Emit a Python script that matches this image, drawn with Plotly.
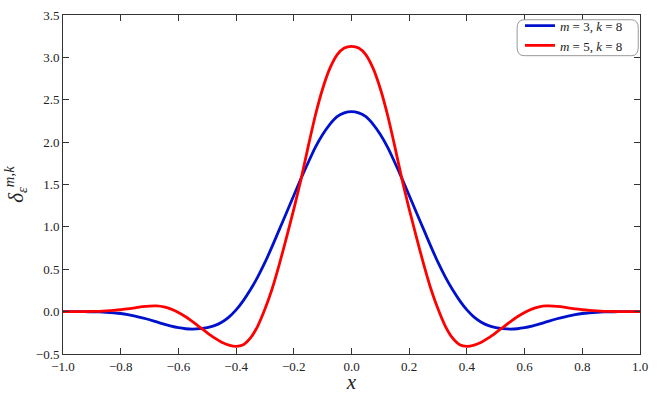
import plotly.graph_objects as go

# values (x step 0.025)
x_vals = [round(-1.0 + 0.025 * i, 3) for i in range(81)]

m3_left = [0.0, 0.0, 0.0, -0.001, -0.002, -0.004, -0.008, -0.014, -0.022, -0.035,
           -0.052, -0.073, -0.096, -0.122, -0.148, -0.172, -0.19, -0.202, -0.206, -0.2,
           -0.188, -0.165, -0.125, -0.065, 0.02, 0.13, 0.26, 0.41, 0.58, 0.77,
           0.97, 1.17, 1.37, 1.57, 1.76, 1.94, 2.09, 2.21, 2.30, 2.345,
           2.36]
m3_right = [2.345, 2.30, 2.21, 2.09, 1.94, 1.76, 1.57, 1.37, 1.17, 0.97,
            0.77, 0.58, 0.41, 0.26, 0.13, 0.02, -0.065, -0.125, -0.165, -0.188,
            -0.2, -0.206, -0.202, -0.19, -0.172, -0.148, -0.122, -0.096, -0.073, -0.052,
            -0.035, -0.022, -0.014, -0.008, -0.004, -0.002, -0.001, 0.0, 0.0, 0.0]

m5_left = [0.0, 0.0, 0.0, 0.001, 0.002, 0.004, 0.008, 0.014, 0.022, 0.033,
           0.045, 0.058, 0.066, 0.067, 0.055, 0.03, -0.01, -0.06, -0.12, -0.185,
           -0.25, -0.31, -0.36, -0.395, -0.41, -0.39, -0.31, -0.17, 0.03, 0.27,
           0.56, 0.88, 1.21, 1.56, 1.95, 2.32, 2.63, 2.87, 3.03, 3.11,
           3.13]
m5_right = [3.11, 3.03, 2.87, 2.63, 2.32, 1.95, 1.56, 1.21, 0.88, 0.56,
            0.27, 0.03, -0.17, -0.31, -0.39, -0.41, -0.395, -0.36, -0.31, -0.25,
            -0.185, -0.12, -0.06, -0.01, 0.03, 0.055, 0.067, 0.066, 0.058, 0.045,
            0.033, 0.022, 0.014, 0.008, 0.004, 0.002, 0.001, 0.0, 0.0, 0.0]

m3_vals = m3_left + m3_right
m5_vals = m5_left + m5_right

x_ticks = [-1.0, -0.8, -0.6, -0.4, -0.2, 0.0, 0.2, 0.4, 0.6, 0.8, 1.0]
x_labels = ['\u22121.0', '\u22120.8', '\u22120.6', '\u22120.4', '\u22120.2',
            '0.0', '0.2', '0.4', '0.6', '0.8', '1.0']
y_ticks = [-0.5, 0.0, 0.5, 1.0, 1.5, 2.0, 2.5, 3.0, 3.5]
y_labels = ['\u22120.5', '0.0', '0.5', '1.0', '1.5', '2.0', '2.5', '3.0', '3.5']

serif = "Liberation Serif"

fig = go.Figure()
fig.add_trace(go.Scatter(x=x_vals, y=m3_vals, mode='lines',
                         line=dict(color='#0011cc', width=2.8, shape='spline', smoothing=0.6),
                         name='<i>m</i> = 3, <i>k</i> = 8'))
fig.add_trace(go.Scatter(x=x_vals, y=m5_vals, mode='lines',
                         line=dict(color='#ff0000', width=2.8, shape='spline', smoothing=0.6),
                         name='<i>m</i> = 5, <i>k</i> = 8'))

axis_style = dict(showgrid=False, zeroline=False, showline=True, linecolor='#333333',
                  linewidth=1, mirror='ticks', ticks='inside', ticklen=6,
                  tickcolor='#333333', automargin=False,
                  tickfont=dict(family=serif, size=13, color='#222222'))

fig.update_xaxes(range=[-1, 1], tickvals=x_ticks, ticktext=x_labels,
                 title=dict(text='<i>x</i>', font=dict(family=serif, size=21, color='#222222'),
                            standoff=4),
                 **axis_style)
fig.update_yaxes(range=[-0.5, 3.5], tickvals=y_ticks, ticktext=y_labels,
                 title=dict(text='<i>\u03b4</i><sub><i>\u03b5</i></sub><sup><i>m</i>,<i>k</i></sup>',
                            font=dict(family=serif, size=21, color='#222222'), standoff=6),
                 **axis_style)

# rounded legend frame
x0, x1, y0, y1 = 0.787, 0.997, 0.880, 0.986
rx, ry = 0.012, 0.025
fig.add_shape(type='path', xref='paper', yref='paper',
              path=(f'M {x0+rx},{y1} L {x1-rx},{y1} Q {x1},{y1} {x1},{y1-ry} '
                    f'L {x1},{y0+ry} Q {x1},{y0} {x1-rx},{y0} L {x0+rx},{y0} '
                    f'Q {x0},{y0} {x0},{y0+ry} L {x0},{y1-ry} Q {x0},{y1} {x0+rx},{y1} Z'),
              line=dict(color='#999999', width=1), fillcolor='white', layer='above')

fig.update_layout(width=664, height=394,
                  margin=dict(l=63, r=24, t=14, b=40),
                  plot_bgcolor='white', paper_bgcolor='white',
                  font=dict(family=serif, size=12, color='#222222'),
                  legend=dict(x=0.792, y=1.01, xanchor='left', yanchor='top',
                              bgcolor='rgba(0,0,0,0)', borderwidth=0,
                              font=dict(family=serif, size=13, color='#222222')),
                  showlegend=True)

# page body has a default margin, drop it so the figure sits at the window corner
fig.write_html("out.html", config={'displayModeBar': False},
               post_script="document.body.style.margin='0px';")
